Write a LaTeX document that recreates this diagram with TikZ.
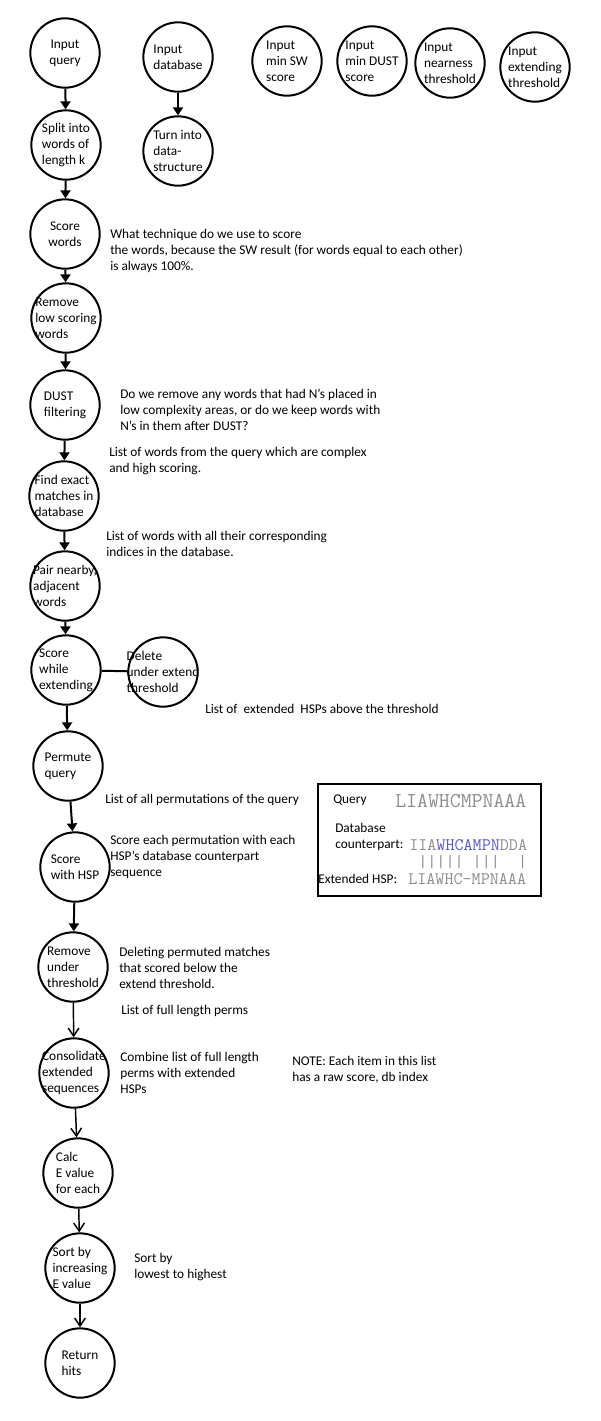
\documentclass[tikz,border=0pt]{standalone}
\usepackage{fontspec}
\setmainfont{Carlito}
\usetikzlibrary{arrows.meta}
\definecolor{seqgray}{RGB}{140,140,140}
\definecolor{seqblue}{RGB}{85,85,215}

\begin{document}
\begin{tikzpicture}[x=0.75pt, y=-0.75pt, font=\fontsize{10}{12}\selectfont,
  main/.style = {draw, circle, line width=1.5pt, minimum size=52pt, inner sep=0pt},
  txt/.style = {align=left, inner sep=0pt},
  note/.style = {anchor=north west, align=left, inner sep=0pt},
  arr/.style = {line width=1.5pt, -{Triangle[length=6pt, width=7.5pt]}},
  arrv/.style = {line width=1.1pt, -{Straight Barb[length=6pt, width=8pt]}},
  seq/.style = {anchor=west, inner sep=0pt, text=seqgray}]
\useasboundingbox (0,0) rectangle (600,1421);
% inputs
\node[main, label={[txt, align=center]center:{Input\\query}}] (1) at (65,53) {};
\node[main, label={[txt]center:{Input\\database}}] (2) at (178,57) {};
\node[main, label={[txt]center:{Input\\min SW\\score}}] (3) at (287,61) {};
\node[main, label={[txt]center:{Input\\min DUST\\score}}] (4) at (372,61) {};
\node[main, label={[txt]center:{Input\\nearness\\threshold}}] (5) at (450,63) {};
\node[main, label={[txt]center:{Input\\extending\\threshold}}] (6) at (535,67) {};
% main chain
\node[main, label={[txt]center:{Split into\\words of\\length k}}] (7) at (66,145) {};
\node[main, label={[txt]center:{Turn into\\data-\\structure}}] (8) at (178,151) {};
\node[main, label={[txt, align=center]center:{Score\\words}}] (9) at (65,234) {};
\node[main, label={[txt]center:{Remove\\low scoring\\words}}] (10) at (66,318) {};
\node[main, label={[txt]center:{DUST\\filtering}}] (11) at (65,405) {};
\node[main, label={[txt]center:{Find exact\\matches in\\database}}] (12) at (64,496) {};
\node[main, label={[txt]center:{Pair nearby,\\adjacent\\words}}] (13) at (65,586) {};
\node[main, label={[txt]center:{Score\\while\\extending}}] (14) at (66,670) {};
\node[main, label={[txt]center:{Delete\\under extend\\threshold}}] (15) at (163,672) {};
\node[main, label={[txt]center:{Permute\\query}}] (16) at (68,766) {};
\node[main, label={[txt]center:{Score\\with HSP}}] (17) at (75,867) {};
\node[main, label={[txt]center:{Remove\\under\\threshold}}] (18) at (73,967) {};
\node[main, label={[txt]center:{Consolidate\\extended\\sequences}}] (19) at (74,1073) {};
\node[main, label={[txt]center:{Calc\\E value\\for each}}] (20) at (78,1173) {};
\node[main, label={[txt]center:{Sort by\\increasing\\E value}}] (21) at (80,1268) {};
\node[main, label={[txt]center:{Return\\hits}}] (22) at (80,1363) {};
% notes
\node[note] (n1) at (110,229) {What technique do we use to score\\the words, because the SW result (for words equal to each other)\\is always 100\%.};
\node[note] (n2) at (120,389) {Do we remove any words that had N's placed in\\low complexity areas, or do we keep words with\\N's in them after DUST?};
\node[note] (n3) at (109,447) {List of words from the query which are complex\\and high scoring.};
\node[note] (n4) at (106,531) {List of words with all their corresponding\\indices in the database.};
\node[note] (n5) at (205,704) {List of\ \ extended\ \ HSPs above the threshold};
\node[note] (n6) at (105,794) {List of all permutations of the query};
\node[note] (n7) at (110,835) {Score each permutation with each\\HSP's database counterpart\\sequence};
\node[note] (n8) at (119,947) {Deleting permuted matches\\that scored below the\\extend threshold.};
\node[note] (n9) at (121,1005) {List of full length perms};
\node[note] (n10) at (120,1052) {Combine list of full length\\perms with extended\\HSPs};
\node[note] (n11) at (292,1056) {NOTE: Each item in this list\\has a raw score, db index};
\node[note] (n12) at (134,1253) {Sort by\\lowest to highest};
% alignment box
\draw[line width=2pt] (318,784) rectangle (541,896);
\node[anchor=west, inner sep=0pt] (bq) at (333,800) {Query};
\node[note] (bd) at (335,823) {Database\\counterpart:};
\node[anchor=west, inner sep=0pt] (be) at (318,879) {Extended HSP:};
\node[seq, font=\ttfamily\fontsize{15.9}{16}\selectfont] (sq) at (395,801) {LIAWHCMPNAAA};
\node[seq, font=\ttfamily\fontsize{13.2}{14}\selectfont] (sd) at (409,845) {IIA\textcolor{seqblue}{WHCAMPN}DDA};
\node[seq, font=\ttfamily\fontsize{13.2}{14}\selectfont] (sb) at (409,862) {\phantom{I}|||||\phantom{A}|||\phantom{DD}|};
\node[seq, font=\ttfamily\fontsize{13.2}{14}\selectfont] (se) at (408,879) {LIAWHC-MPNAAA};
% connectors
\draw[arr] (1) -- (7);
\draw[arr] (2) -- (8);
\draw[arr] (7) -- (9);
\draw[arr] (9) -- (10);
\draw[arr] (10) -- (11);
\draw[arr] (11) -- (12);
\draw[arr] (12) -- (13);
\draw[arr] (13) -- (14);
\draw[line width=1.5pt] (14) -- (15);
\draw[arr] (14) -- (16);
\draw[arr] (16) -- (17);
\draw[arr] (17) -- (18);
\draw[arrv] (18) -- (19);
\draw[arrv] (19) -- (20);
\draw[arrv] (20) -- (21);
\draw[arrv] (21) -- (22);
\end{tikzpicture}
\end{document}
